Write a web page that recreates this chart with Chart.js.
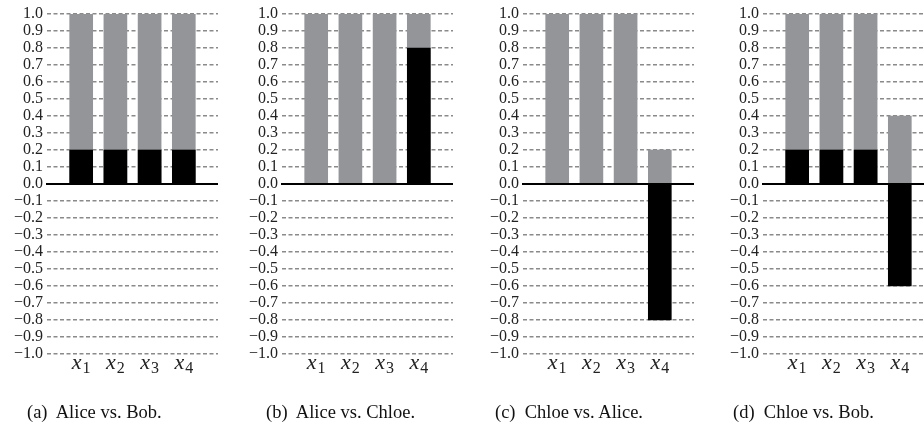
<!DOCTYPE html>
<html>
<head>
<meta charset="utf-8">
<script src="https://cdn.jsdelivr.net/npm/chart.js@4.4.1/dist/chart.umd.min.js"></script>
<style>
  html, body { margin: 0; padding: 0; background: #fff; }
  body { width: 924px; height: 427px; overflow: hidden; position: relative; }
  canvas { position: absolute; top: 0; }
  .caption {
    position: absolute; top: 402px;
    font-family: 'Liberation Serif', 'Times New Roman', serif;
    font-size: 18.5px; color: #111; white-space: pre;
  }
</style>
</head>
<body>
<canvas id="chartA" width="224" height="427" style="left:0px"></canvas>
<canvas id="chartB" width="224" height="427" style="left:235px"></canvas>
<canvas id="chartC" width="224" height="427" style="left:476px"></canvas>
<canvas id="chartD" width="224" height="427" style="left:716px"></canvas>
<div class="caption" style="left:27px">(a)  Alice vs. Bob.</div>
<div class="caption" style="left:266px">(b)  Alice vs. Chloe.</div>
<div class="caption" style="left:495px">(c)  Chloe vs. Alice.</div>
<div class="caption" style="left:733px">(d)  Chloe vs. Bob.</div>
<script>
// categories x1..x4 (subscript digit drawn by the label plugin)
const categories = ['1', '2', '3', '4'];

// gray bars (back) and black bars (front), one pair per panel
const grayA  = [1.0, 1.0, 1.0, 1.0];
const blackA = [0.2, 0.2, 0.2, 0.2];
const grayB  = [1.0, 1.0, 1.0, 1.0];
const blackB = [0.0, 0.0, 0.0, 0.8];
const grayC  = [1.0, 1.0, 1.0, 0.2];
const blackC = [0.0, 0.0, 0.0, -0.8];
const grayD  = [1.0, 1.0, 1.0, 0.4];
const blackD = [0.2, 0.2, 0.2, -0.6];

const yMin = -1.0;
const yMax = 1.0;
const yStep = 0.1;

const serif = "'Liberation Serif', 'Times New Roman', serif";

function points(values) {
    return values.map((v, i) => ({ x: i + 1, y: v }));
}

// italic x with an upright subscript, centred under each bar
const subLabels = {
    id: 'subLabels',
    afterDraw(chart) {
        const ctx = chart.ctx;
        const xs = chart.scales.x;
        const base = chart.chartArea.bottom + 15;
        ctx.save();
        ctx.fillStyle = '#222';
        ctx.textBaseline = 'alphabetic';
        ctx.textAlign = 'left';
        categories.forEach((c, i) => {
            ctx.font = 'italic 22px ' + serif;
            const w1 = ctx.measureText('x').width;
            ctx.font = '16px ' + serif;
            const w2 = ctx.measureText(c).width;
            const left = xs.getPixelForValue(i + 1) - (w1 + w2 + 1) / 2;
            ctx.font = 'italic 22px ' + serif;
            ctx.fillText('x', left, base);
            ctx.font = '16px ' + serif;
            ctx.fillText(c, left + w1 + 1, base + 4);
        });
        ctx.restore();
    }
};

function make_panel(id, gray, black) {
    const ctx = document.getElementById(id).getContext('2d');
    return new Chart(ctx, {
        type: 'bar',
        data: {
            datasets: [
                { data: points(black), backgroundColor: '#000000', order: 0 },
                { data: points(gray), backgroundColor: '#939598', order: 1 },
            ]
        },
        plugins: [subLabels],
        options: {
            responsive: false,
            animation: false,
            layout: { padding: { top: 14, bottom: 73, left: 0, right: 6 } },
            plugins: { legend: { display: false }, tooltip: { enabled: false } },
            datasets: { bar: { grouped: false, barThickness: 23 } },
            scales: {
                x: {
                    type: 'linear',
                    min: 0,
                    max: 5,
                    offset: false,
                    position: { y: 0 },
                    ticks: { display: false },
                    grid: { drawOnChartArea: false, drawTicks: false, lineWidth: 0 },
                    border: { display: true, color: '#000', width: 2, z: 1 },
                },
                y: {
                    min: yMin,
                    max: yMax,
                    afterFit: (s) => { s.width = 47; },
                    ticks: {
                        stepSize: yStep,
                        autoSkip: false,
                        padding: 4,
                        color: '#222',
                        font: { family: serif, size: 16 },
                        callback: (v) => {
                            if (Math.abs(v) < 1e-9) return '0.0';
                            return v.toFixed(1).replace('-', '\u2212');
                        }
                    },
                    grid: {
                        drawTicks: false,
                        lineWidth: 1.5,
                        color: (c) => Math.abs(c.tick.value) < 1e-9 ? 'rgba(0,0,0,0)' : '#8a8a8a',
                    },
                    border: { display: false, dash: [4, 2.5] },
                }
            }
        }
    });
}

make_panel('chartA', grayA, blackA);
make_panel('chartB', grayB, blackB);
make_panel('chartC', grayC, blackC);
make_panel('chartD', grayD, blackD);
</script>
</body>
</html>
